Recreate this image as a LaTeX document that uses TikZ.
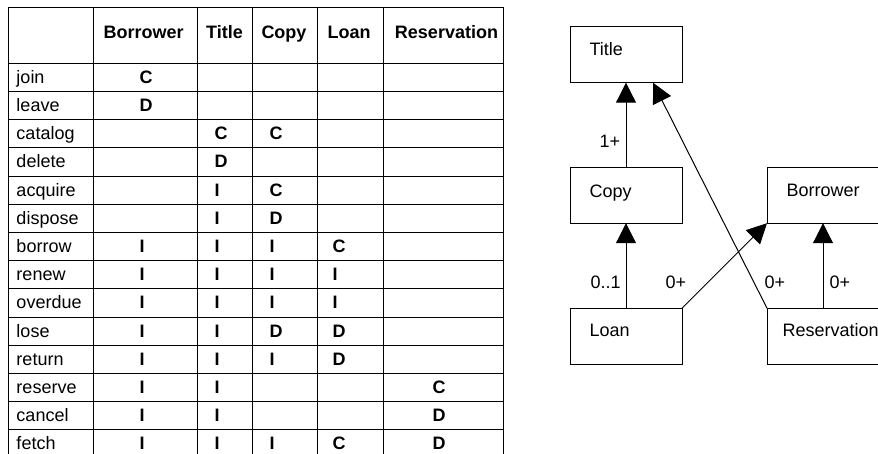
\documentclass[tikz,border=0pt]{standalone}
\usepackage{fontspec}
\setmainfont{Liberation Sans}
\usetikzlibrary{arrows.meta}
\definecolor{lineColor}{RGB}{0, 0, 0}
\definecolor{textColor}{RGB}{0, 0, 0}

\begin{document}
\begin{tikzpicture}[x=0.5pt, y=-0.5pt, line width=0.5pt, draw=lineColor,
    every node/.style={font=\fontsize{9}{11}\selectfont, text=textColor, inner sep=0pt},
    head/.style={font=\fontsize{9}{11}\selectfont\bfseries, anchor=base},
    op/.style={anchor=base west},
    cellmark/.style={font=\fontsize{9}{11}\selectfont\bfseries, anchor=base west},
    classbox/.style={draw=lineColor, rectangle, minimum width=56pt, minimum height=28pt, outer sep=0pt},
    classname/.style={anchor=base west},
    mult/.style={anchor=base west},
    assoc/.style={draw=lineColor, -{Triangle[width=10pt, length=10pt]}}]
    \useasboundingbox (0,0) rectangle (878,454);
    \clip (0,0) rectangle (878,454);

    % table grid
    \draw (8,8) rectangle (503,480);
    \draw (93,8) -- (93,480) (197,8) -- (197,480) (252,8) -- (252,480)
          (317,8) -- (317,480) (383,8) -- (383,480);
    \draw (8,63.3) -- (503,63.3) (8,91.5) -- (503,91.5) (8,119.7) -- (503,119.7)
          (8,147.9) -- (503,147.9) (8,176.1) -- (503,176.1) (8,204.3) -- (503,204.3)
          (8,232.5) -- (503,232.5) (8,260.7) -- (503,260.7) (8,288.9) -- (503,288.9)
          (8,317.1) -- (503,317.1) (8,345.3) -- (503,345.3) (8,373.5) -- (503,373.5)
          (8,401.7) -- (503,401.7) (8,429.9) -- (503,429.9) (8,458.1) -- (503,458.1);

    % header
    \node[head] (hb) at (143.7,38.5) {Borrower};
    \node[head] (ht) at (224.5,38.5) {Title};
    \node[head] (hc) at (284,38.5) {Copy};
    \node[head] (hl) at (349,38.5) {Loan};
    \node[head] (hr) at (446.5,38.5) {Reservation};

    % operations
    \node[op] (join) at (16,83.3) {join};
    \node[op] (leave) at (16,111.5) {leave};
    \node[op] (catalog) at (16,139.7) {catalog};
    \node[op] (delete) at (16,167.9) {delete};
    \node[op] (acquire) at (16,196.1) {acquire};
    \node[op] (dispose) at (16,224.3) {dispose};
    \node[op] (borrow) at (16,252.5) {borrow};
    \node[op] (renew) at (16,280.7) {renew};
    \node[op] (overdue) at (16,308.9) {overdue};
    \node[op] (lose) at (16,337.1) {lose};
    \node[op] (return) at (16,365.3) {return};
    \node[op] (reserve) at (16,393.5) {reserve};
    \node[op] (cancel) at (16,421.7) {cancel};
    \node[op] (fetch) at (16,449.9) {fetch};

    % C / D / I entries
    \node[cellmark] (join-b) at (139,83.3) {C};
    \node[cellmark] (leave-b) at (139,111.5) {D};
    \node[cellmark] (catalog-t) at (214,139.7) {C};
    \node[cellmark] (catalog-c) at (269,139.7) {C};
    \node[cellmark] (delete-t) at (214,167.9) {D};
    \node[cellmark] (acquire-t) at (214,196.1) {I};
    \node[cellmark] (acquire-c) at (269,196.1) {C};
    \node[cellmark] (dispose-t) at (214,224.3) {I};
    \node[cellmark] (dispose-c) at (269,224.3) {D};
    \node[cellmark] (borrow-b) at (139,252.5) {I};
    \node[cellmark] (borrow-t) at (214,252.5) {I};
    \node[cellmark] (borrow-c) at (269,252.5) {I};
    \node[cellmark] (borrow-l) at (332,252.5) {C};
    \node[cellmark] (renew-b) at (139,280.7) {I};
    \node[cellmark] (renew-t) at (214,280.7) {I};
    \node[cellmark] (renew-c) at (269,280.7) {I};
    \node[cellmark] (renew-l) at (332,280.7) {I};
    \node[cellmark] (overdue-b) at (139,308.9) {I};
    \node[cellmark] (overdue-t) at (214,308.9) {I};
    \node[cellmark] (overdue-c) at (269,308.9) {I};
    \node[cellmark] (overdue-l) at (332,308.9) {I};
    \node[cellmark] (lose-b) at (139,337.1) {I};
    \node[cellmark] (lose-t) at (214,337.1) {I};
    \node[cellmark] (lose-c) at (269,337.1) {D};
    \node[cellmark] (lose-l) at (332,337.1) {D};
    \node[cellmark] (return-b) at (139,365.3) {I};
    \node[cellmark] (return-t) at (214,365.3) {I};
    \node[cellmark] (return-c) at (269,365.3) {I};
    \node[cellmark] (return-l) at (332,365.3) {D};
    \node[cellmark] (reserve-b) at (139,393.5) {I};
    \node[cellmark] (reserve-t) at (214,393.5) {I};
    \node[cellmark] (reserve-r) at (432,393.5) {C};
    \node[cellmark] (cancel-b) at (139,421.7) {I};
    \node[cellmark] (cancel-t) at (214,421.7) {I};
    \node[cellmark] (cancel-r) at (432,421.7) {D};
    \node[cellmark] (fetch-b) at (139,449.9) {I};
    \node[cellmark] (fetch-t) at (214,449.9) {I};
    \node[cellmark] (fetch-c) at (269,449.9) {I};
    \node[cellmark] (fetch-l) at (332,449.9) {C};
    \node[cellmark] (fetch-r) at (432,449.9) {D};

    % class diagram
    \node[classbox] (title) at (626,54.7) {};
    \node[classbox] (copy) at (626,195.2) {};
    \node[classbox] (borrower) at (823,195.2) {};
    \node[classbox] (loan) at (626,336.2) {};
    \node[classbox] (reservation) at (823,336.2) {};

    \node[classname] (titlename) at (589,55.7) {Title};
    \node[classname] (copyname) at (589,197.3) {Copy};
    \node[classname] (borrowername) at (786,197) {Borrower};
    \node[classname] (loanname) at (589,336.7) {Loan};
    \node[classname] (reservationname) at (782,336.7) {Reservation};

    \draw[assoc] (copy) -- (title);
    \draw[assoc] (loan) -- (copy);
    \draw[assoc] (loan.north east) -- (borrower.south west);
    \draw[assoc] (reservation.north west) -- ([xshift=13.5pt]title.south);
    \draw[assoc] (reservation) -- (borrower);

    \node[mult] (m1) at (599,148) {1+};
    \node[mult] (m2) at (590,289) {0..1};
    \node[mult] (m3) at (665,289) {0+};
    \node[mult] (m4) at (764,289) {0+};
    \node[mult] (m5) at (829,289) {0+};
\end{tikzpicture}
\end{document}
